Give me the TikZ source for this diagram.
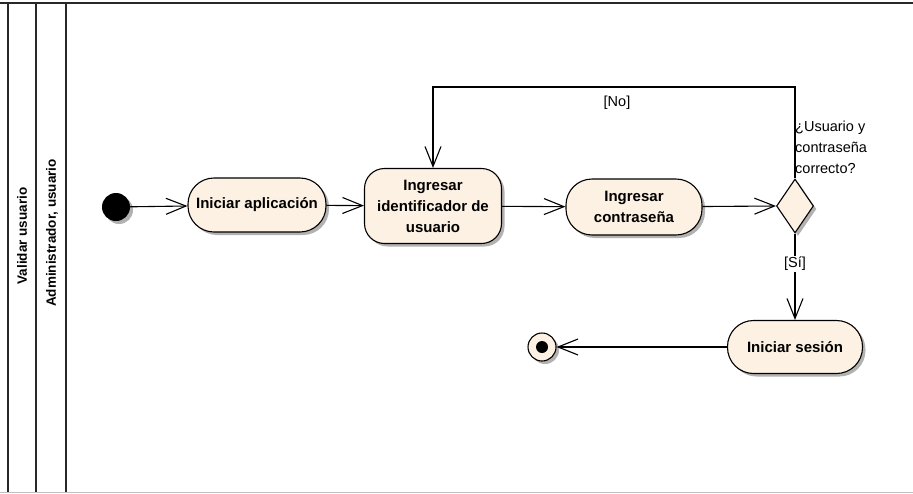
\documentclass[tikz,border=0pt]{standalone}
\usepackage{fontspec}
\setmainfont{Liberation Sans}
\usetikzlibrary{arrows.meta,shapes.geometric,shadows}
\definecolor{actfill}{RGB}{252,241,226}
\definecolor{lanegray}{RGB}{40,40,40}
\tikzset{
  shad/.style={drop shadow={shadow xshift=3pt,shadow yshift=-3pt,fill=black!30,opacity=1}},
  activity/.style={draw=black,line width=1.1pt,fill=actfill,shad,align=center,
    font=\fontsize{15}{21}\selectfont\bfseries,inner sep=2pt},
  decision/.style={diamond,draw=black,line width=1.1pt,fill=actfill,shad,inner sep=0pt,
    minimum width=37pt,minimum height=54pt},
  flow/.style={draw=black,line width=1.1pt,-{Straight Barb[length=20pt,width=16pt,line width=1.1pt]}},
  lbl/.style={font=\fontsize{14.5}{21}\selectfont},
  lanetxt/.style={font=\fontsize{13.5}{15}\selectfont\bfseries,rotate=90},
  laneline/.style={draw=lanegray,line width=1.5pt}
}
\begin{document}
\begin{tikzpicture}[x=1pt,y=-1pt]
\useasboundingbox (0,0) rectangle (913,493);
% swimlane frame
\draw[draw=lanegray,line width=2pt] (0,3) -- (913,3);
\draw[laneline] (8,3) -- (8,493);
\draw[laneline] (36,3) -- (36,493);
\draw[laneline] (66,3) -- (66,493);
\draw[draw=black!25,line width=1pt] (0,492.5) -- (913,492.5);
\node[lanetxt] (lane1) at (22,236) {Validar usuario};
\node[lanetxt] (lane2) at (52,233) {Administrador, usuario};
% nodes
\node[circle,fill=black,inner sep=0pt,minimum size=28pt,shad] (start) at (116,207) {};
\node[activity,minimum width=138pt,minimum height=54pt,rounded corners=26pt] (a1) at (257,205) {Iniciar aplicación};
\node[activity,minimum width=137pt,minimum height=75pt,rounded corners=20pt] (a2) at (433,206) {Ingresar\\identificador de\\usuario};
\node[activity,minimum width=136pt,minimum height=56pt,rounded corners=26pt] (a3) at (634,207) {Ingresar\\contraseña};
\node[decision] (d) at (795,206) {};
\node[lbl,anchor=north west,align=left,inner sep=0pt] (q) at (795,121) {¿Usuario y\\contraseña\\correcto?};
\node[activity,minimum width=135pt,minimum height=53pt,rounded corners=26pt] (a4) at (795,347) {Iniciar sesión};
\node[circle,draw=black,line width=1.1pt,fill=actfill,inner sep=0pt,minimum size=28pt,shad] (end) at (542,347) {};
\node[circle,fill=black,inner sep=0pt,minimum size=12pt] (endin) at (end.center) {};
\coordinate (c1) at (795,87);
\coordinate (c2) at (433,87);
% flows
\draw[flow] (start) -- (a1);
\draw[flow] (a1) -- (a2);
\draw[flow] (a2) -- (a3);
\draw[flow] (a3) -- (d.west);
\draw[flow] (d.north) -- (c1) -- (c2) -- (a2.north);
\node[lbl] (no) at (617,103) {[No]};
\draw[flow] (d.south) -- (a4.north);
\node[lbl,fill=white,inner sep=1pt] (si) at (795,264) {[Sí]};
\draw[flow] (a4) -- (end);
\end{tikzpicture}
\end{document}
